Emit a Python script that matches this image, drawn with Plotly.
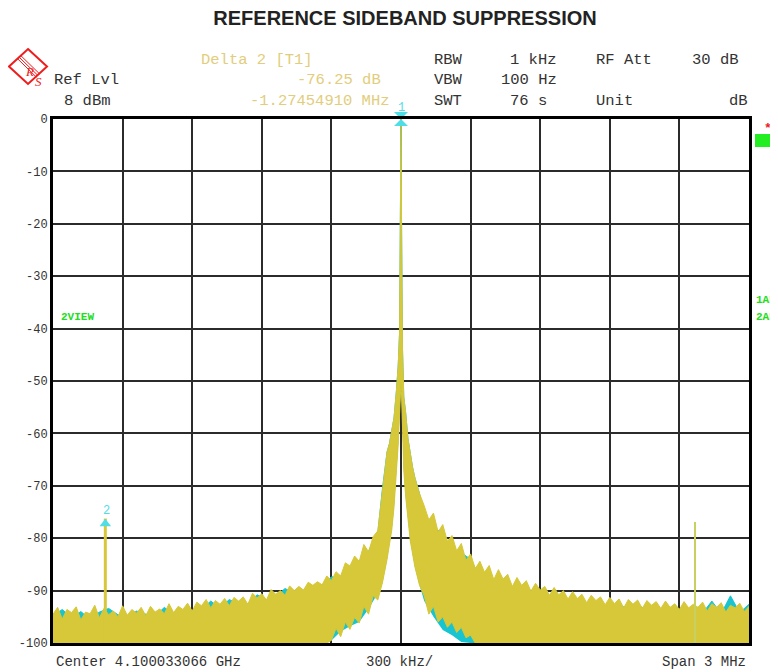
import plotly.graph_objects as go

# spectrum analyser screenshot: offset from centre in MHz, level in dB
# yellow trace (T1) - upper / lower edge of the noisy trace
LEFT_F = [round(-1.50 + 0.02 * i, 2) for i in range(71)]
LEFT_UP = [
    -94.5, -93.2, -95.4, -93.6, -94.2, -93.1, -95.6, -94.1, -94.4, -92.8,
    -95.2, -93.4, -94.6, -93.9, -95.0, -92.9, -94.7, -93.6, -94.3, -93.2,
    -94.8, -93.0, -94.1, -93.5, -94.4, -92.5, -94.2, -93.0, -93.6, -92.4,
    -93.9, -92.2, -92.9, -91.7, -93.3, -91.9, -92.6, -91.5, -92.9, -91.3,
    -92.0, -91.2, -92.6, -90.5, -91.4, -90.6, -91.8, -89.8, -90.7, -90.0,
    -90.9, -89.1, -90.0, -89.2, -89.9, -88.4, -89.0, -88.3, -88.9, -87.2,
    -88.1, -86.4, -87.2, -84.7, -85.3, -83.4, -84.4, -81.2, -82.6, -79.7, -78.6,
]
LEFT_LO = [-100.0] * 60 + [
    -99.5, -97.2, -98.8, -96.0, -97.4, -95.1, -96.2, -93.0, -94.5, -91.0, -91.8,
]

CENTER_F = [-0.08, -0.06, -0.05, -0.04, -0.03, -0.02, -0.012, -0.006, -0.002, 0.0,
            0.002, 0.006, 0.012, 0.02, 0.03, 0.04, 0.05, 0.06, 0.08]
CENTER_UP = [-70.5, -63.5, -62.0, -59.5, -57.0, -52.0, -47.0, -40.5, -17.5, 0.0,
             -17.0, -43.0, -53.0, -56.0, -61.0, -64.0, -66.5, -68.5, -71.5]
CENTER_LO = [-88.5, -84.0, -81.0, -78.5, -74.0, -68.0, -62.0, -56.0, -50.0, -50.0,
             -52.0, -60.0, -67.0, -72.0, -77.0, -80.5, -83.0, -85.5, -89.0]

RIGHT_F = [round(0.10 + 0.02 * i, 2) for i in range(71)]
RIGHT_UP = [
    -73.8, -76.5, -75.2, -78.8, -77.4, -80.6, -79.5, -82.4, -81.0, -84.2, -83.0,
    -85.8, -84.4, -86.5, -85.2, -87.9, -86.0, -87.8, -86.9, -89.2, -87.5,
    -89.0, -88.1, -90.1, -88.6, -89.9, -89.2, -90.9, -89.4, -90.8, -90.0,
    -91.6, -90.2, -91.5, -90.7, -92.3, -90.9, -91.9, -91.2, -92.7, -91.3,
    -92.5, -91.6, -93.3, -91.7, -92.6, -91.8, -93.4, -91.9, -92.8, -92.1,
    -93.4, -92.0, -93.2, -92.5, -93.6, -92.1, -93.3, -92.6, -93.2, -92.2,
    -93.9, -92.5, -93.2, -92.3, -94.1, -92.8, -93.3, -92.4, -94.0, -93.0,
]
RIGHT_LO = [-91.0, -94.5, -93.0, -96.0, -95.0, -97.0, -96.0, -98.0, -97.0, -99.0, -98.5] + [-100.0] * 60

# cyan trace (T2), coarser grid, mostly hidden under the yellow one
CYAN_LEFT_F = [round(-1.50 + 0.04 * i, 2) for i in range(36)]
CYAN_LEFT_UP = [
    -94.8, -93.6, -95.2, -94.0, -95.5, -94.1, -93.4, -94.6, -95.2, -93.9,
    -94.5, -94.9, -93.2, -94.6, -94.0, -93.8, -93.6, -92.0, -93.3, -91.7,
    -92.6, -92.5, -90.8, -91.8, -91.2, -89.6, -90.5, -89.9, -89.6, -88.9,
    -87.4, -87.2, -85.8, -84.3, -82.5, -79.0,
]
CYAN_LEFT_LO = [-100.0] * 30 + [-99.5, -97.8, -96.8, -96.0, -93.5, -90.5]
CYAN_RIGHT_F = [round(0.10 + 0.04 * i, 2) for i in range(36)]
CYAN_RIGHT_UP = [
    -75.5, -78.0, -79.0, -82.9, -82.8, -84.0, -87.4, -87.0, -89.5, -88.4,
    -90.3, -89.0, -91.4, -90.8, -92.3, -91.0, -92.8, -92.0, -93.5, -92.4,
    -93.4, -92.3, -94.0, -92.6, -93.9, -93.2, -94.2, -93.0, -94.1, -93.1,
    -94.3, -92.0, -94.4, -91.0, -94.2, -92.6,
]
CYAN_RIGHT_LO = [-92.0, -95.0, -97.5, -98.5, -99.8] + [-100.0] * 31

# spurious lines (marker 2 and its mirror)
SPUR_F = [-1.2745, 1.2672]
SPUR_DB = [-76.25, -76.9]

Y_TICKS = [0, -10, -20, -30, -40, -50, -60, -70, -80, -90, -100]

YELLOW = "#d6c838"
CYAN = "#18c4cf"
MARK = "#4fdde6"
GOLD = "#e2cd7c"
RED = "#ee1c1c"
GREEN = "#22dd22"
MONO = "Liberation Mono"

fig = go.Figure()

cy_f = CYAN_LEFT_F + CENTER_F + CYAN_RIGHT_F
fig.add_trace(go.Scatter(x=cy_f, y=CYAN_LEFT_LO + CENTER_LO + CYAN_RIGHT_LO,
                         mode="lines", line=dict(width=0, color=CYAN), hoverinfo="skip"))
fig.add_trace(go.Scatter(x=cy_f, y=CYAN_LEFT_UP + CENTER_UP + CYAN_RIGHT_UP,
                         mode="lines", line=dict(width=1, color=CYAN),
                         fill="tonexty", fillcolor=CYAN, hoverinfo="skip"))

ye_f = LEFT_F + CENTER_F + RIGHT_F
fig.add_trace(go.Scatter(x=ye_f, y=LEFT_LO + CENTER_LO + RIGHT_LO,
                         mode="lines", line=dict(width=1, color=YELLOW), hoverinfo="skip"))
fig.add_trace(go.Scatter(x=ye_f, y=LEFT_UP + CENTER_UP + RIGHT_UP,
                         mode="lines", line=dict(width=1, color=YELLOW),
                         fill="tonexty", fillcolor=YELLOW, hoverinfo="skip"))

fig.add_trace(go.Scatter(x=[SPUR_F[0], SPUR_F[0]], y=[-100, SPUR_DB[0]], mode="lines",
                         line=dict(width=3, color=YELLOW)))
fig.add_trace(go.Scatter(x=[SPUR_F[1], SPUR_F[1]], y=[-100, SPUR_DB[1]], mode="lines",
                         line=dict(width=2, color="#c9d062")))

# markers
fig.add_trace(go.Scatter(x=[0.0], y=[0.0], mode="markers",
                         marker=dict(symbol="hourglass", size=14, color=MARK), cliponaxis=False))
fig.add_trace(go.Scatter(x=[SPUR_F[0]], y=[SPUR_DB[0] - 1.0], mode="markers",
                         marker=dict(symbol="triangle-up", size=10, color=MARK), cliponaxis=False))

fig.update_xaxes(range=[-1.5, 1.5], dtick=0.3, tick0=-1.5, showticklabels=False,
                 showgrid=True, gridcolor="#2b2b2b", gridwidth=1.5, zeroline=False,
                 showline=True, linecolor="black", linewidth=3, mirror=True, ticks="",
                 automargin=False)
fig.update_yaxes(range=[-100, 0], tickvals=Y_TICKS, ticktext=[str(v) for v in Y_TICKS],
                 showgrid=True, gridcolor="#2b2b2b", gridwidth=1.5, zeroline=False,
                 showline=True, linecolor="black", linewidth=3, mirror=True, ticks="",
                 automargin=False,
                 tickfont=dict(family=MONO, size=12, color="#333333"))


# positions below are screenshot pixels, mapped onto the plot area
def px(x):
    return (x - 53) / 696


def py(y):
    return (643 - y) / 524


def note(text, x, y, anchor="left", color="#333333", size=15.5, bold=False):
    if bold:
        text = "<b>" + text + "</b>"
    fig.add_annotation(text=text, x=px(x), y=py(y), xref="paper", yref="paper",
                       xanchor=anchor, yanchor="middle", showarrow=False,
                       font=dict(family=MONO, size=size, color=color))


# marker labels
note("1", 401, 108, anchor="center", color=MARK, size=12)
note("2", 106, 511, anchor="center", color=MARK, size=12)

note("Delta 2 [T1]", 199, 60, color=GOLD)
note("-76.25 dB", 383, 80, anchor="right", color=GOLD)
note("-1.27454910 MHz", 392, 101, anchor="right", color=GOLD)
note("Ref Lvl", 52, 80)
note("8 dBm", 62, 101)
note("RBW", 432, 60)
note("VBW", 432, 80)
note("SWT", 432, 101)
note("1 kHz", 559, 60, anchor="right")
note("100 Hz", 559, 80, anchor="right")
note("76 s", 549, 101, anchor="right")
note("RF Att", 594, 60)
note("Unit", 594, 101)
note("30 dB", 741, 60, anchor="right")
note("dB", 750, 101, anchor="right")
note("Center 4.100033066 GHz", 54, 662, size=14)
note("300 kHz/", 364, 662, size=14)
note("Span 3 MHz", 748, 662, anchor="right", size=14)
note("2VIEW", 59, 317, color=GREEN, size=11, bold=True)
note("1AP", 754, 300, color=GREEN, size=11, bold=True)
note("2AP", 754, 317, color=GREEN, size=11, bold=True)
note("*", 768, 129, anchor="center", color=RED, size=13, bold=True)

fig.add_shape(type="rect", xref="paper", yref="paper", x0=px(755), x1=px(780),
              y0=py(147), y1=py(134), fillcolor="#22ee22", line=dict(width=0))


# R&S logo
def pt(x, y):
    return "%.4f,%.4f" % (px(x), py(y))


diamond = "M " + pt(28, 49) + " L " + pt(47, 66.5) + " L " + pt(28, 84) + " L " + pt(9, 66.5) + " Z"
fig.add_shape(type="path", xref="paper", yref="paper", path=diamond,
              line=dict(color=RED, width=2))
for d in (-1.6, 0.0, 1.6):
    fig.add_shape(type="path", xref="paper", yref="paper",
                  path="M " + pt(19 + d, 57 - d) + " L " + pt(38 + d, 75.5 - d),
                  line=dict(color=RED, width=1))
fig.add_annotation(text="<i>R</i>", x=px(23), y=py(62), xref="paper", yref="paper",
                   showarrow=False, font=dict(family="Liberation Serif", size=13, color=RED))
fig.add_annotation(text="<i>S</i>", x=px(33), y=py(72), xref="paper", yref="paper",
                   showarrow=False, font=dict(family="Liberation Serif", size=13, color=RED))

# the page body adds an 8px margin, so the figure is 8px smaller than the window
fig.update_layout(
    width=770, height=664,
    margin=dict(l=45, r=29, t=111, b=29),
    paper_bgcolor="white", plot_bgcolor="white",
    showlegend=False,
    title=dict(text="<b>REFERENCE SIDEBAND SUPPRESSION</b>", x=397 / 770, xanchor="center",
               y=1 - 10 / 664, yanchor="middle",
               font=dict(family="Liberation Sans", size=20, color="#222222")),
)

fig.write_html("out.html")
